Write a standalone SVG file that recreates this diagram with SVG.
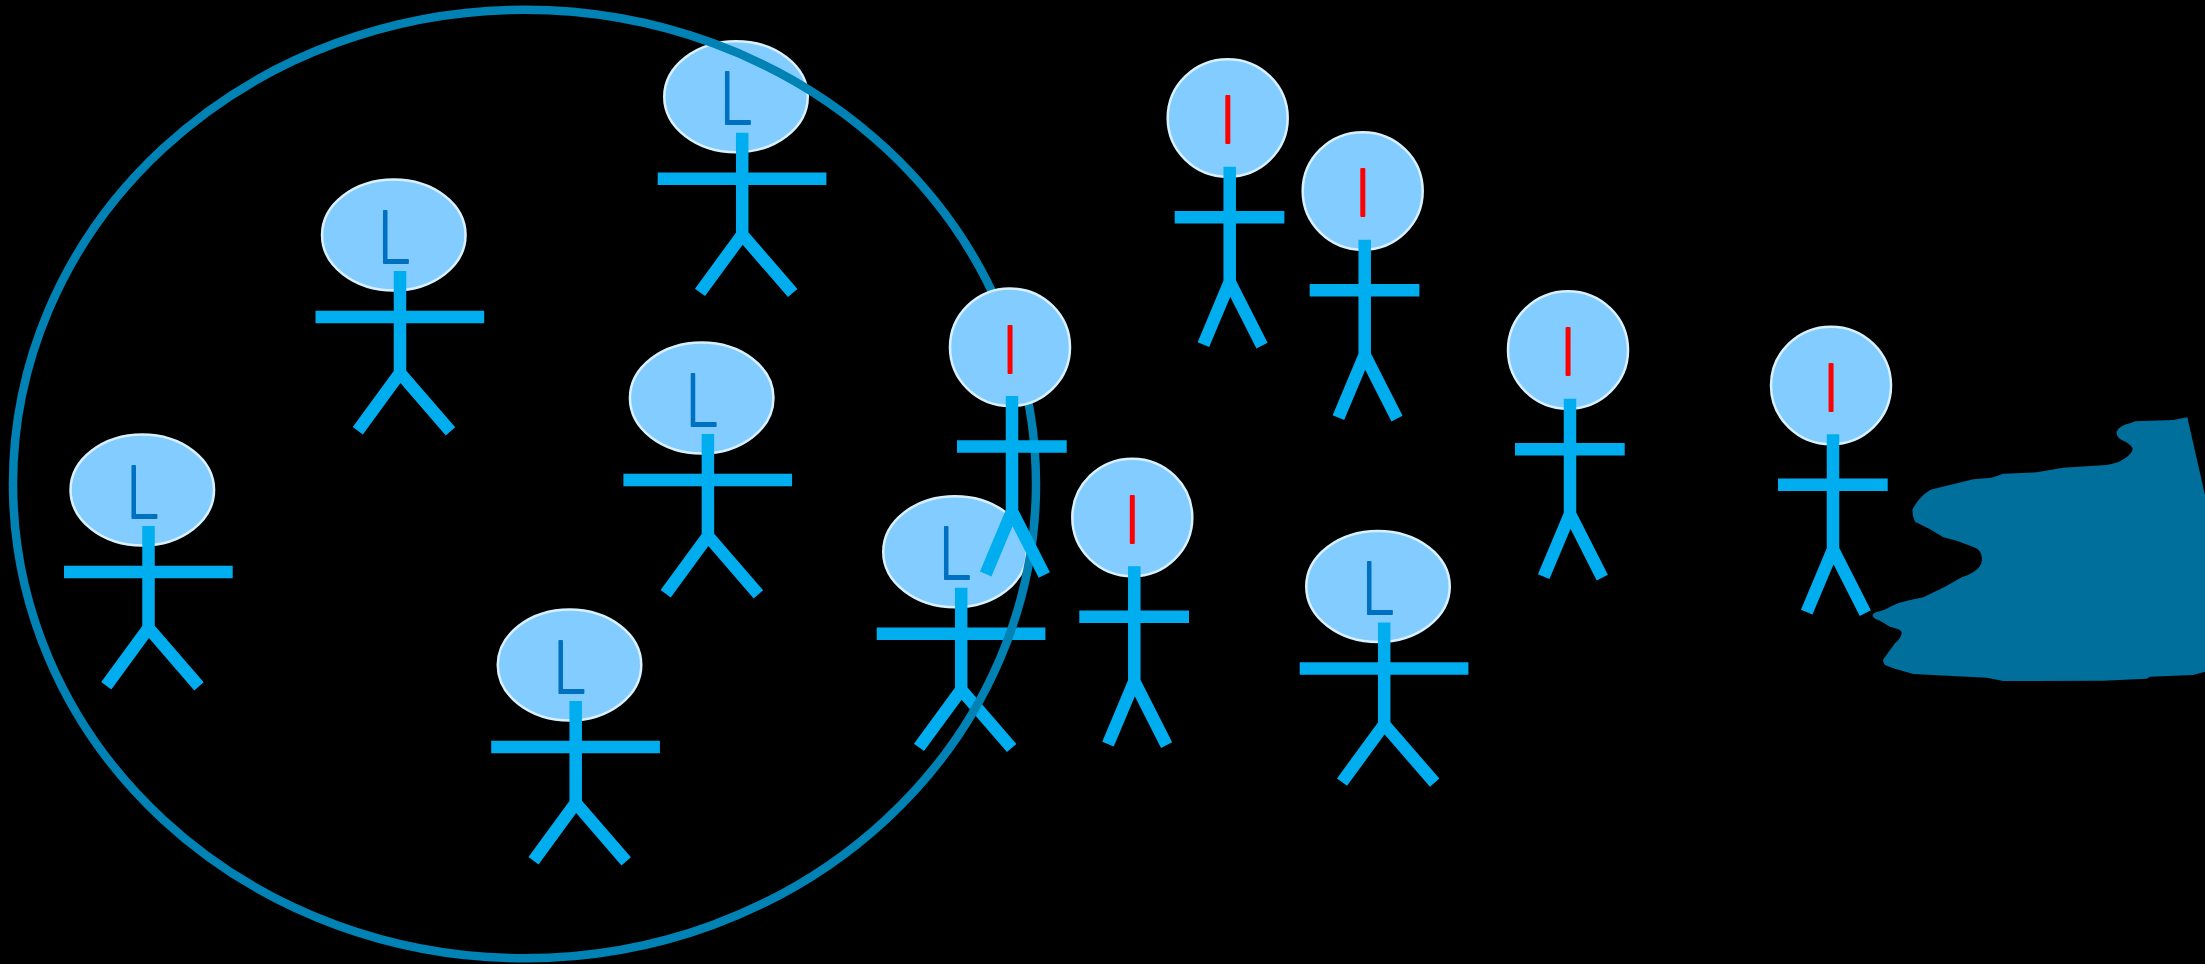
<svg xmlns="http://www.w3.org/2000/svg" width="2205" height="964" viewBox="0 0 2205 964">
<style>
.head{fill:#83ccff;stroke:#d9f1ff;stroke-width:2.5}
.limb{fill:none;stroke:#00aef0;stroke-width:12.5;stroke-linejoin:miter}
.ltr{font-family:"Inter","Liberation Sans",sans-serif;font-weight:200;stroke-width:2;stroke-linejoin:round}
.l{font-size:71px;fill:#0070c0;stroke:#0070c0}
.i{font-size:65px;fill:#ff0000;stroke:#ff0000;text-anchor:middle}
.ring{fill:none;stroke:#0082b4;stroke-width:8.5}
</style>
<defs>
<ellipse id="egg" class="head" rx="71.75" ry="55.5"/>
<ellipse id="ball" class="head" rx="60" ry="58.8"/>
<path id="lf" class="limb" d="M6.2 36V138M-78.3 82H90.4M-36 195.7L6.2 138L56.7 196.3"/>
<path id="if" class="limb" d="M2 48.7V164M-53 99.2H56.7M-24.3 226.7L2 164L34.3 227.7"/>
</defs>
<rect width="2205" height="964" fill="#000"/>
<g id="land"><path fill="#006f9b" transform="translate(1850 400) scale(.33333)" d="M1012 52L1065 285V815L1030 825L900 830L890 836L760 842L460 843L410 833L190 822Q125 805 105 795Q98 788 100 778L135 730Q153 715 155 700Q155 690 140 686L120 680Q100 668 90 662Q68 656 68 645Q70 637 90 634Q110 628 125 618Q150 606 180 600L220 592L285 560L335 532Q375 520 390 498Q396 490 396 475Q396 450 370 441L320 422L280 412L240 388L195 365Q187 350 187 330Q195 310 215 290Q235 270 250 267L290 257L370 238L425 233L460 221L560 217L640 203L770 195Q805 190 825 175Q848 160 848 145Q840 130 815 120Q798 110 800 95Q810 75 840 70L855 64L970 60Z"/></g>
<g id="person-l1" transform="translate(142.3 490)"><use href="#egg"/><text class="ltr l" transform="scale(.85 1)" x="-19.3" y="27.5">L</text><use href="#lf"/></g>
<g id="person-l2" transform="translate(393.8 235)"><use href="#egg"/><text class="ltr l" transform="scale(.85 1)" x="-19.3" y="27.5">L</text><use href="#lf"/></g>
<g id="person-l3" transform="translate(736 96.7)"><use href="#egg"/><text class="ltr l" transform="scale(.85 1)" x="-19.3" y="27.5">L</text><use href="#lf"/></g>
<g id="person-l4" transform="translate(701.7 398)"><use href="#egg"/><text class="ltr l" transform="scale(.85 1)" x="-19.3" y="27.5">L</text><use href="#lf"/></g>
<g id="person-l5" transform="translate(569.5 665)"><use href="#egg"/><text class="ltr l" transform="scale(.85 1)" x="-19.3" y="27.5">L</text><use href="#lf"/></g>
<g id="person-l6" transform="translate(955 551.7)"><use href="#egg"/><text class="ltr l" transform="scale(.85 1)" x="-19.3" y="27.5">L</text><use href="#lf"/></g>
<g id="person-l7" transform="translate(1378 586.4)"><use href="#egg"/><text class="ltr l" transform="scale(.85 1)" x="-19.3" y="27.5">L</text><use href="#lf"/></g>
<g id="connectors"><ellipse class="ring" cx="524.5" cy="484" rx="511.5" ry="474.2"/></g>
<g id="person-i1" transform="translate(1010 347.3)"><use href="#ball"/><text class="ltr i" y="25.4">I</text><use href="#if"/></g>
<g id="person-i2" transform="translate(1132.3 517.5)"><use href="#ball"/><text class="ltr i" y="25.4">I</text><use href="#if"/></g>
<g id="person-i3" transform="translate(1227.7 118)"><use href="#ball"/><text class="ltr i" y="25.4">I</text><use href="#if"/></g>
<g id="person-i4" transform="translate(1362.7 191)"><use href="#ball"/><text class="ltr i" y="25.4">I</text><use href="#if"/></g>
<g id="person-i5" transform="translate(1568 350)"><use href="#ball"/><text class="ltr i" y="25.4">I</text><use href="#if"/></g>
<g id="person-i6" transform="translate(1831 385.5)"><use href="#ball"/><text class="ltr i" y="25.4">I</text><use href="#if"/></g>
</svg>
